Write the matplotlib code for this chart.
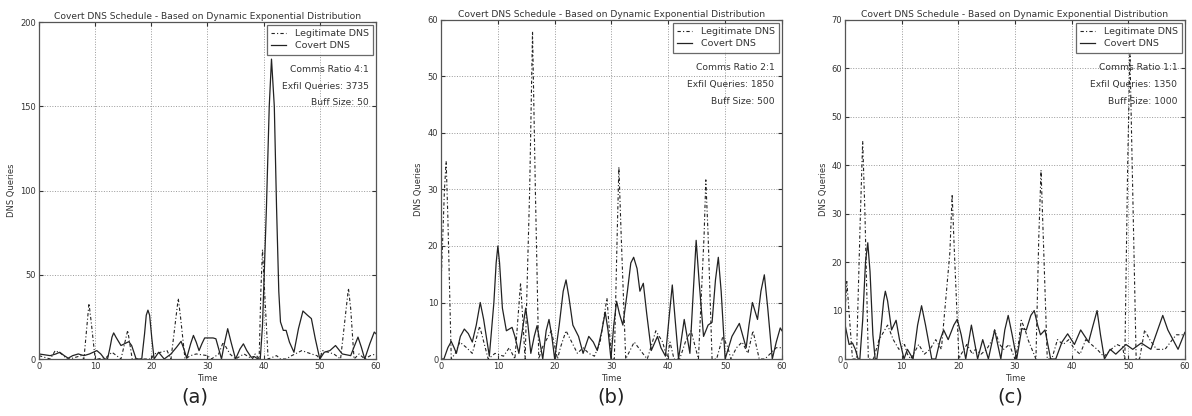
import matplotlib
matplotlib.use("Agg")
import matplotlib.pyplot as plt

# ---------------- data ----------------
time_ticks = [0, 10, 20, 30, 40, 50, 60]

# Panel (a)
a_cov_t = [0, 1, 2, 3, 3.7, 4.5, 5.2, 6, 7, 8, 9, 10.3, 11, 11.7, 12.2, 12.6, 13.0, 13.3,
           13.7, 14.6, 15.5, 16, 16.5, 17.3, 18.3, 18.8, 19.1, 19.4, 19.7, 20.1, 20.5, 21.3,
           22.3, 23.5, 24.5, 25.3, 25.8, 26.3, 27.0, 27.5, 28.0, 28.5, 29.0, 29.5, 31, 31.5,
           32.0, 32.5, 33.0, 33.6, 34.2, 35, 35.8, 36.4, 37.0, 37.8, 38.3, 39, 39.4, 39.8,
           40.2, 40.5, 41.0, 41.4, 41.9, 42.3, 42.7, 43.0, 43.5, 44.0, 44.6, 45.4, 46.2, 47,
           47.8, 48.5, 49.2, 50, 50.8, 51.8, 52.8, 54, 55.5, 56.2, 56.8, 57.4, 58, 58.9,
           59.7, 60]
a_cov_v = [3, 2.5, 2, 3, 4, 2, 0.5, 2, 3, 2, 3, 5, 3, 0, 0, 6, 13, 15.5,
           13, 8, 9.5, 10.3, 8, 0, 0, 15, 26, 29, 26, 12, 0, 4,
           0, 3, 7, 10.5, 6, 0.5, 9, 14, 10, 5, 9, 12.5, 12.5, 12,
           6, 0, 9, 18, 10, 0, 6, 9, 5, 1, 1.5, 0, 0, 20,
           60, 90, 150, 178, 150, 90, 40, 22, 17, 17, 10, 4, 18, 28.5,
           26, 24, 12, 0, 4, 5, 8, 3, 2, 8, 13, 7, 0, 9,
           16, 15]
a_leg_t = [0, 1, 2, 2.9, 4, 5, 6, 7.5, 8, 8.6, 8.9, 9.3, 10, 10.5, 12, 13, 14.6, 15.8,
           16.6, 20, 20.5, 22.8, 23.5, 24.4, 24.8, 25.2, 26, 27, 28, 30, 30.7, 32, 32.8, 34,
           35, 36.5, 38, 38.5, 39.2, 39.5, 39.8, 40.1, 40.8, 42.3, 43, 44, 45, 46.8, 48.5,
           49.5, 50, 50.5, 52.5, 53.7, 54.7, 55.1, 55.5, 56.1, 57, 58, 59, 60]
a_leg_v = [2, 1, 0, 5, 3, 0, 0.5, 2, 0, 22, 33, 22, 0, 0, 1, 4, 0, 17,
           0, 0, 3, 5, 0, 25, 36, 25, 0, 2, 3, 2, 0, 3, 10, 3,
           0, 3, 0, 3, 0, 40, 65, 45, 0, 2, 0, 0, 2, 5, 3,
           2, 0, 5, 3, 0, 30, 42, 30, 0, 3, 0, 2, 3]

# Panel (b)
b_cov_t = [0, 0.5, 1.2, 1.8, 2.3, 2.7, 3.4, 4.1, 4.8, 5.5, 6.2, 6.9, 7.5, 8.5, 9.3, 9.7, 10,
           10.3, 10.8, 11.5, 12.5, 13.0, 13.7, 14.3, 14.9, 15.3, 15.8, 16.4, 16.9, 17.4,
           17.9, 18.5, 19, 19.5, 20, 20.8, 21.5, 22, 22.5, 23.2, 24.2, 25, 26, 26.8, 27.5,
           28.3, 28.9, 29.4, 29.9, 30.4, 30.9, 31.4, 32, 32.8, 33.4, 33.9, 34.5, 35, 35.6,
           36.2, 37, 38.1, 38.7, 39.5, 40.2, 40.7, 41.2, 41.8, 42.8, 43.8, 44.4, 44.9, 45.4,
           46.2, 47, 47.7, 48.3, 48.8, 49.3, 50, 51.2, 52.5, 53.7, 54.2, 54.8, 55.7, 56.3,
           56.9, 57.5, 58.3, 59, 59.7, 60]
b_cov_v = [0, 0, 2, 3.1, 2, 1, 4, 5.3, 4.5, 3, 6, 10, 7, 0.5, 10, 17, 20,
           17, 9, 5, 5.6, 4, 1, 5, 9, 6, 1, 4, 5.9, 3,
           0, 5, 7, 4, 0, 6, 12, 14, 11, 6, 4, 1, 4, 3, 1.5,
           5, 8.3, 5, 0, 6, 10.2, 8, 6, 12, 17, 18, 16, 12, 13.4,
           8, 1.5, 4, 2, 0.5, 8, 13.1, 7, 0, 7, 1, 12, 21, 14,
           4, 6, 6.5, 14, 18, 12, 0, 4, 6.3, 2, 6, 10, 7, 12,
           14.9, 9, 0, 3, 5.5, 5]
b_leg_t = [0, 0.6, 0.9, 1.2, 1.8, 2.5, 3.3, 4.5, 5.5, 6.8, 8.3, 9.5, 11, 12, 13, 14, 14.8,
           15.6, 16.1, 16.6, 17.2, 17.8, 19.4, 20.5, 21, 22, 22.5, 24, 25, 26, 27, 28, 29.2,
           30, 30.5, 31.0, 31.3, 31.7, 32.5, 34, 35.5, 36.3, 37.8, 39, 39.8, 40.3, 41, 42,
           43, 44, 45.3, 46.3, 46.6, 47.0, 47.7, 48.5, 49.6, 50.5, 51, 52, 53, 54, 54.9, 56,
           57, 58, 59, 60]
b_leg_v = [13, 30, 35, 25, 0, 1, 3, 2, 1, 5.8, 0, 1, 0.5, 2, 0, 13.5, 0,
           30, 58, 30, 0, 2, 5, 0, 2, 5, 4, 1, 2, 1, 0.5, 3, 10.8,
           0, 0, 22, 34, 22, 0, 3, 1, 0, 5, 3, 0, 3, 0, 0,
           3, 5, 0, 22, 31.7, 22, 0, 0, 4, 2, 0, 2, 3, 1, 5, 0,
           0, 1, 2, 2]

# Panel (c)
c_cov_t = [0, 0.7, 1.3, 1.8, 2.3, 2.6, 3.1, 3.6, 4, 4.4, 4.9, 5.3, 5.6, 6.3, 6.8, 7.1, 7.5,
           8.2, 9, 9.6, 10.4, 11, 11.5, 12, 12.8, 13.5, 14.2, 15.3, 16, 16.8, 17.4, 18.2,
           19.2, 19.8, 20.5, 21.3, 22.3, 23.4, 24.3, 25.3, 26.4, 27.5, 28.2, 28.8, 29.5,
           30.3, 31.2, 32, 32.8, 33.4, 34, 34.5, 35.3, 35.8, 36.3, 37.2, 38.3, 39.3, 40.5,
           41.6, 43, 43.8, 44.5, 45.1, 45.8, 46.8, 47.8, 49.6, 50.8, 52.3, 54, 55.2, 56.1,
           57, 58.8, 60]
c_cov_v = [7, 3, 3.3, 2, 0, 0, 8, 20, 24, 18, 5, 0, 0, 6, 12, 14, 12,
           6, 8, 4, 0, 2, 1, 0, 7, 11, 7, 0, 0, 4, 6, 4,
           7, 8.2, 5, 0, 7, 0, 4, 0, 6, 0, 6, 9, 5,
           0, 6.3, 6, 9, 10, 7, 5, 6, 3, 0, 0, 3.5, 5.2, 3,
           6, 3.5, 7, 10, 5, 0, 2, 1, 3, 2, 3.3, 2, 6, 9,
           6, 2, 5.5]
c_leg_t = [0, 0.3, 1.3, 2, 2.7, 3.1, 3.5, 4.1, 5, 6, 6.5, 7.5, 8.5, 9.5, 10.5, 11, 11.6, 13,
           14, 15, 16, 17, 18.5, 18.9, 19.3, 20.1, 20.5, 21.5, 22.5, 23, 24, 25, 26, 26.4,
           27.3, 28, 29, 30, 30.6, 31.1, 31.8, 32.3, 33.7, 34.2, 34.6, 35.0, 35.7, 36.5,
           37.5, 38.5, 39.5, 40.5, 41.5, 42.5, 43.5, 44.5, 45.7, 47, 48, 49, 49.4, 49.9,
           50.3, 50.7, 51.4, 52, 52.9, 53.8, 55, 56.5, 57.8, 58.5, 60]
c_leg_v = [10, 16, 0, 0, 30, 45, 30, 0, 0, 4, 5, 7, 4, 2, 3, 1, 0, 3,
           1, 2, 4, 2, 22, 34, 22, 0, 1, 3, 1, 2, 1, 2, 4, 6,
           3, 2, 3, 0, 3, 8, 6, 4, 0, 25, 39, 25, 0, 0,
           4, 3, 4, 2, 1, 4, 3, 2, 0.5, 2, 3, 2.5, 0, 40,
           63, 40, 0, 0, 6, 4, 2, 2, 4, 5, 5]

panel_labels = ["(a)", "(b)", "(c)"]
ratios = ["Comms Ratio 4:1", "Comms Ratio 2:1", "Comms Ratio 1:1"]
exfil = ["Exfil Queries: 3735", "Exfil Queries: 1850", "Exfil Queries: 1350"]
buff = ["Buff Size: 50", "Buff Size: 500", "Buff Size: 1000"]
ymax = [200, 60, 70]
ystep = [50, 10, 10]
title = "Covert DNS Schedule - Based on Dynamic Exponential Distribution"

series = [
    (a_leg_t, a_leg_v, a_cov_t, a_cov_v),
    (b_leg_t, b_leg_v, b_cov_t, b_cov_v),
    (c_leg_t, c_leg_v, c_cov_t, c_cov_v),
]

# ---------------- drawing ----------------
plt.rcParams['font.family'] = ['DejaVu Sans']
fig = plt.figure(figsize=(11.92, 4.16), dpi=100)

positions = [
    [0.0327, 0.137, 0.2827, 0.810],
    [0.370, 0.137, 0.286, 0.815],
    [0.709, 0.137, 0.285, 0.815],
]
label_x = [0.1636, 0.5126, 0.8473]
txt_col = '#333333'

for i, ax_pos in enumerate(positions):
    ax = fig.add_axes(ax_pos)
    lt, lv, ct, cv = series[i]
    ax.plot(lt, lv, color='#222222', lw=0.8, linestyle=(0, (3, 2, 1, 2)),
            label='Legitimate DNS')
    ax.plot(ct, cv, color='#222222', lw=0.9, linestyle='-', label='Covert DNS')
    ax.set_xlim(0, 60)
    ax.set_ylim(0, ymax[i])
    ax.set_xticks(time_ticks)
    ax.set_yticks(list(range(0, ymax[i] + 1, ystep[i])))
    ax.grid(True, color='#999999', linestyle=':', linewidth=0.7)
    ax.tick_params(direction='in', labelsize=6, colors=txt_col, length=3,
                   top=True, right=True, pad=2)
    for s in ax.spines.values():
        s.set_color('#555555')
        s.set_linewidth(0.9)
    ax.set_title(title, fontsize=6.6, color=txt_col, pad=2)
    ax.set_xlabel('Time', fontsize=6, color=txt_col, labelpad=2)
    ax.set_ylabel('DNS Queries', fontsize=6, color=txt_col, labelpad=3)
    leg = ax.legend(loc='upper right', fontsize=6.8, frameon=True, fancybox=False,
                    borderaxespad=0.3, handlelength=1.6, borderpad=0.45,
                    labelspacing=0.35, handletextpad=0.9)
    leg.get_frame().set_edgecolor('#444444')
    leg.get_frame().set_linewidth(0.9)
    for t in leg.get_texts():
        t.set_color(txt_col)
    for k, s in enumerate([ratios[i], exfil[i], buff[i]]):
        ax.text(0.978, 0.860 - 0.050 * k, s, transform=ax.transAxes, ha='right',
                va='center', fontsize=6.6, color=txt_col)
    fig.text(label_x[i], 0.045, panel_labels[i], ha='center', va='center',
             fontsize=14, color='#222222')

fig.savefig('out.png', dpi=100, facecolor='white')
